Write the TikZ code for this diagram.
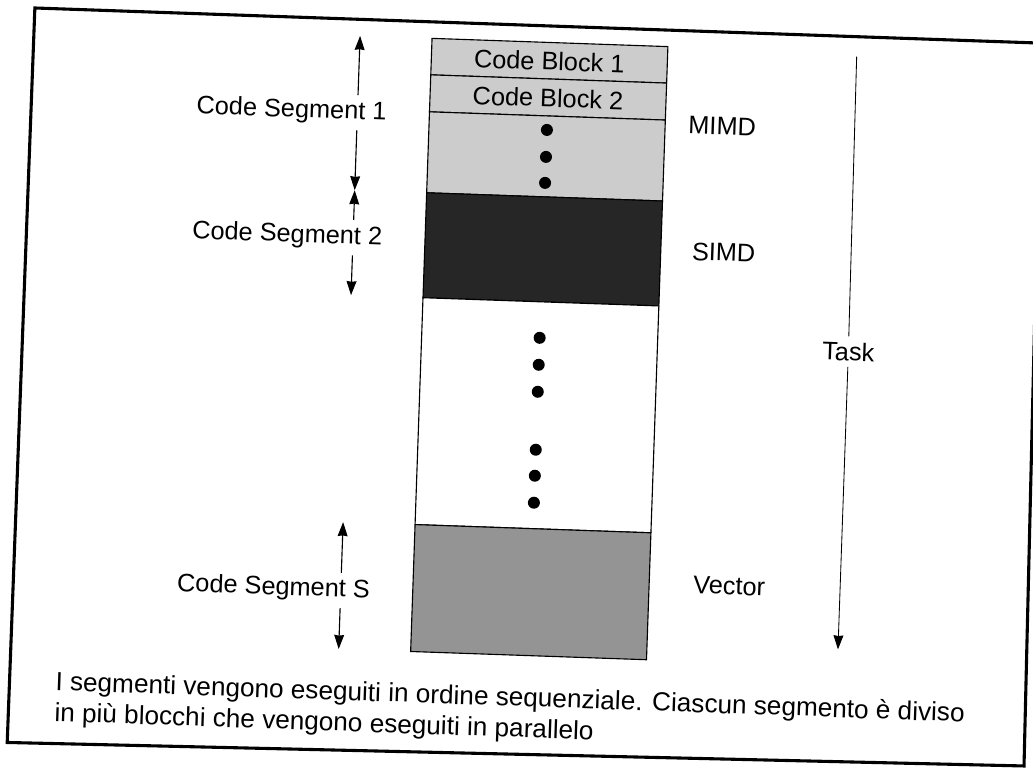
\documentclass[tikz,border=0pt]{standalone}
\usepackage{fontspec}
\setmainfont{Liberation Sans}
\usetikzlibrary{arrows.meta,calc}
\definecolor{lightshade}{RGB}{204,204,204}
\definecolor{darkshade}{RGB}{38,38,38}
\definecolor{midshade}{RGB}{148,148,148}

\begin{document}
\begin{tikzpicture}[x=0.025cm, y=-0.025cm,
            blk/.style={draw, line width=0.8pt},
            txt/.style={font=\fontsize{18}{18}\selectfont},
            seglabel/.style={txt, anchor=base east, inner sep=4pt},
            side/.style={txt, anchor=base west, inner sep=0pt},
            note/.style={side, font=\fontsize{18.6}{18.6}\selectfont},
            arrow/.style={-{Stealth[length=10pt, width=7pt, inset=0.5pt]}, line width=0.8pt}
        ]
            \useasboundingbox (0,0) rectangle (1033,771);
            \clip (0,0) rectangle (1033,771);
            \begin{scope}[rotate around={-2:(516,385)}, transform shape]
            % frame
            \draw[line width=2.2pt] (22,25) -- (20,760) -- (1037,748) -- (1029,25) -- cycle;
            % column of blocks
            \draw[blk, fill=lightshade] (420,41.5) rectangle (656,78);
            \draw[blk, fill=lightshade] (420,78) rectangle (656,115);
            \draw[blk, fill=lightshade] (420,115) rectangle (656,196);
            \draw[blk, fill=darkshade] (420,196) rectangle (656,301);
            \draw[blk, fill=white] (420,301) rectangle (656,528);
            \draw[blk, fill=midshade] (420,528) rectangle (656,655);
            \node (blk1) [txt] at (538,60) {Code Block 1};
            \node (blk2) [txt] at (538,97) {Code Block 2};
            \foreach \y in {129,156,182,337,364,391,449,475,502}
                \fill (538,\y) circle (0.15cm);

            \node (mimd) [side] at (679,128) {MIMD};
            \node (simd) [side] at (687,254) {SIMD};
            \node (vec) [side] at (700,587) {Vector};

            % segments
            \coordinate (b0) at (348,41.5);
            \coordinate (b1) at (348,196);
            \coordinate (b2) at (348,301);
            \coordinate (b3) at (348,528);
            \coordinate (b4) at (348,655);
            \node (seg1) [seglabel] at (383,125) {Code Segment 1};
            \node (seg2) [seglabel] at (383,250) {Code Segment 2};
            \node (segS) [seglabel] at (383,603) {Code Segment S};
            \draw [arrow] ($(b0)!(seg1.north)!(b1)$) -- (b0);
            \draw [arrow] ($(b0)!(seg1.south)!(b1)$) -- (b1);
            \draw [arrow] ($(b1)!(seg2.north)!(b2)$) -- (b1);
            \draw [arrow] ($(b1)!(seg2.south)!(b2)$) -- (b2);
            \draw [arrow] ($(b3)!(segS.north)!(b4)$) -- (b3);
            \draw [arrow] ($(b3)!(segS.south)!(b4)$) -- (b4);

            % task
            \coordinate (ttop) at (845,45);
            \coordinate (tend) at (847,638);
            \node (task) [txt, inner sep=4pt] at (847,340) {Task};
            \draw [line width=0.6pt] (ttop) -- (task);
            \draw [arrow, line width=0.6pt] (task) -- (tend);

            % caption
            \node (cap1) [note] at (66,706) {I segmenti vengono eseguiti in ordine sequenziale. Ciascun segmento è diviso};
            \node (cap2) [note] at (66,737) {in più blocchi che vengono eseguiti in parallelo};
            \end{scope}
        \end{tikzpicture}
\end{document}
